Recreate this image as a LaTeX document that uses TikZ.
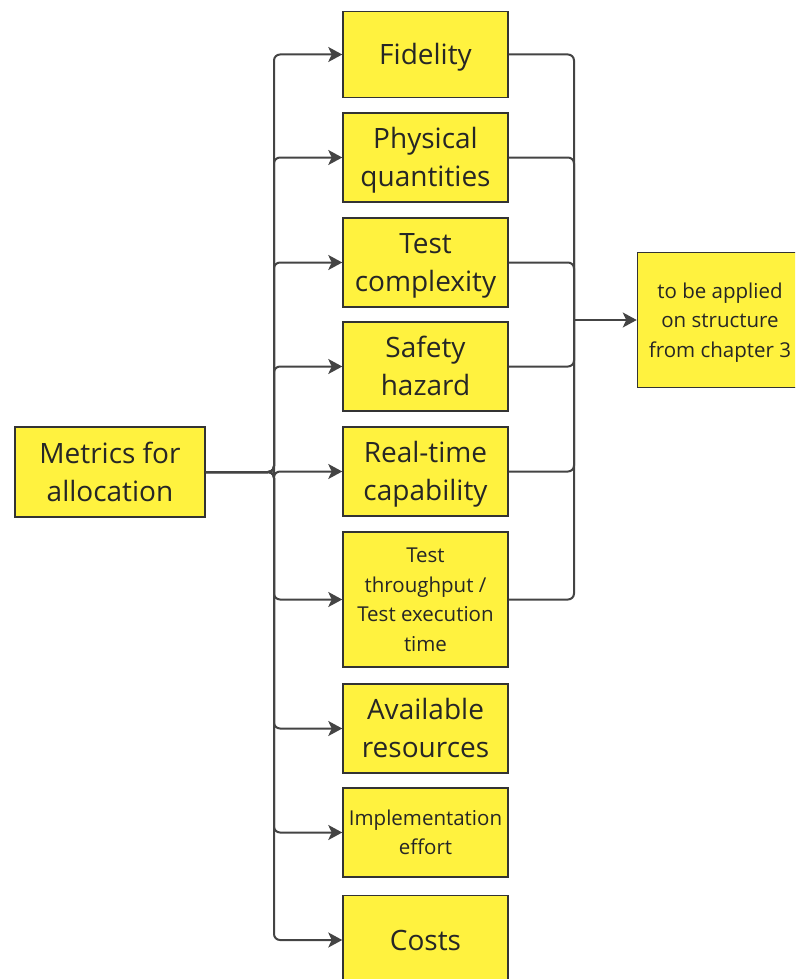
\documentclass[tikz,border=0pt]{standalone}
\usepackage{fontspec}
\setmainfont{Open Sans}
\usetikzlibrary{arrows.meta}
\definecolor{boxyellow}{HTML}{FFF23F}
\definecolor{boxline}{HTML}{333333}
\definecolor{wire}{HTML}{444444}
\definecolor{ink}{HTML}{262626}
\begin{document}
\begin{tikzpicture}[x=1pt,y=-1pt,every text node part/.style={align=center},
    metric/.style={draw=boxline,line width=1.5pt,fill=boxyellow,text=ink,inner sep=0pt,
      minimum width=165pt,minimum height=89pt,text height=20pt,text depth=0pt,
      font=\fontsize{28}{38}\selectfont},
    twolines/.style={text height=58pt},
    small/.style={font=\fontsize{20.5}{29.5}\selectfont,text height=15pt},
    wire/.style={draw=wire,line width=2pt,rounded corners=6pt,-{Stealth[length=14pt,width=15pt,inset=3.5pt]}},
    merge/.style={draw=wire,line width=2pt,rounded corners=6pt}]

    \path[use as bounding box,clip] (0,0) rectangle (795,979);

    % --------------------------------------------------------- %
    % ------------- principal node (Metrics)
    % --------------------------------------------------------- %
    \node[metric,twolines,minimum width=190pt,minimum height=90pt] (metrics) at (110,472) {Metrics for\\allocation};

    % --------------------------------------------------------- %
    % ------------- column of metrics
    % --------------------------------------------------------- %
    \node[metric,minimum height=86pt] (fid) at (425.5,54.5) {Fidelity};
    \node[metric,twolines] (phys) at (425.5,157.5) {Physical\\quantities};
    \node[metric,twolines] (cplx) at (425.5,262.5) {Test\\complexity};
    \node[metric,twolines] (safe) at (425.5,366.5) {Safety\\hazard};
    \node[metric,twolines] (rt) at (425.5,471.5) {Real-time\\capability};
    \node[metric,small,text height=103.5pt,minimum height=135pt] (thru) at (425.5,599.5) {Test\\throughput /\\Test execution\\time};
    \node[metric,twolines] (res) at (425.5,728.5) {Available\\resources};
    \node[metric,small,text height=44.5pt] (impl) at (425.5,832.5) {Implementation\\effort};
    \node[metric] (cost) at (425.5,940) {Costs};

    % --------------------------------------------------------- %
    % ------------- target node (structure)
    % --------------------------------------------------------- %
    \node[metric,small,text height=74pt,minimum height=135pt] (target) at (720,320) {to be applied\\on structure\\from chapter 3};

    % --------------------------------------------------------- %
    % ------------- fan out and merge
    % --------------------------------------------------------- %
    \coordinate (split) at (274,472);
    \coordinate (join) at (574,320);

    \foreach \m in {fid,phys,cplx,safe,rt,thru,res,impl,cost}
      \draw[wire] (metrics.east) -- (split) |- (\m.west);

    \foreach \m in {fid,phys,cplx,safe,rt,thru}
      \draw[merge] (\m.east) -| (join);
    \draw[wire] (join) -- (target.west);

  \end{tikzpicture}
\end{document}
